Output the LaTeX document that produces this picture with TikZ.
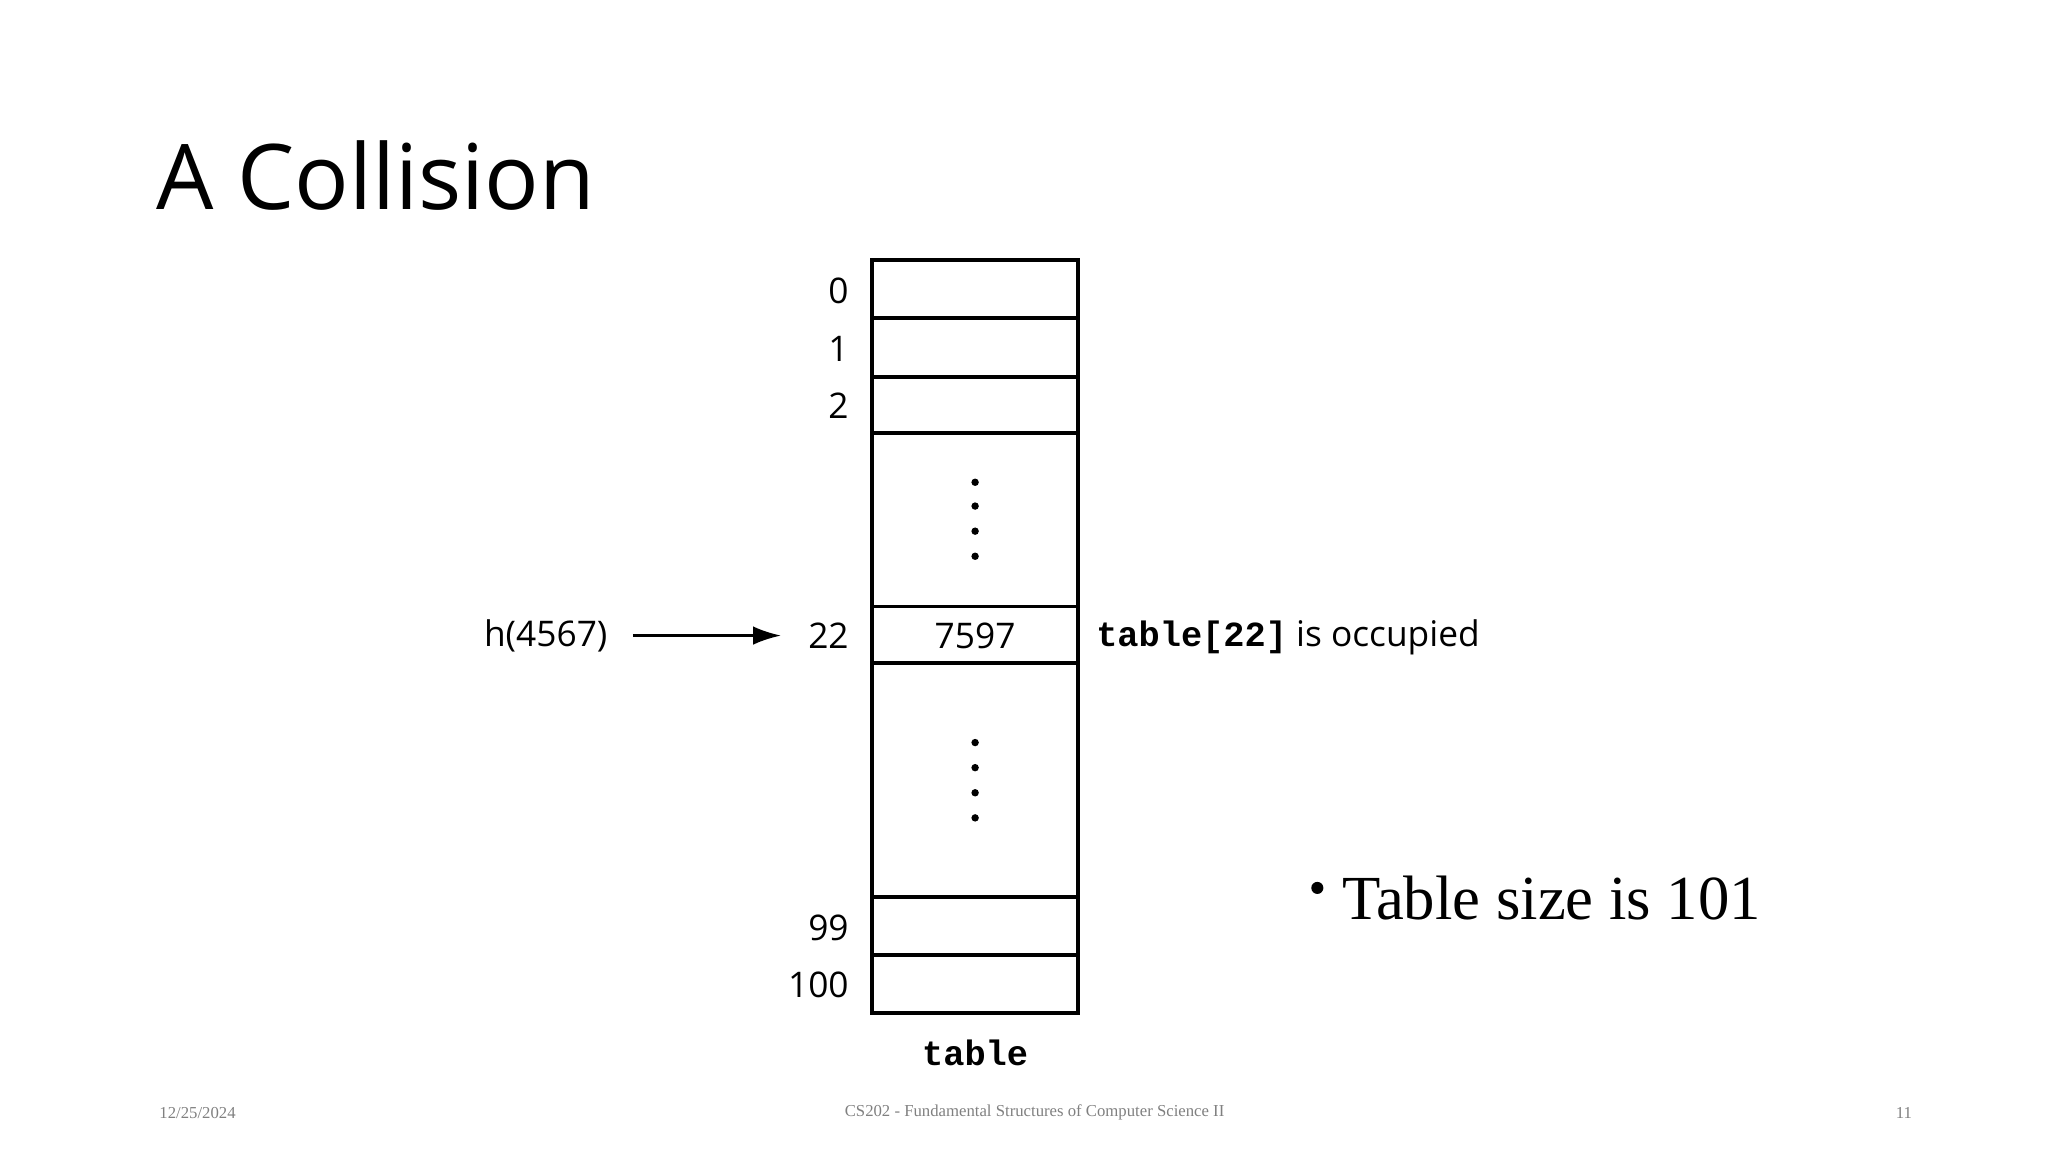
\documentclass[tikz,border=0pt]{standalone}
\usepackage{fontspec}
\setmainfont{Open Sans}
\newfontfamily\tms{Liberation Serif}
\newfontfamily\cour{Liberation Mono}
\usetikzlibrary{arrows.meta}
\begin{document}
\begin{tikzpicture}[x=0.01cm,y=-0.01cm,
  idx/.style={anchor=east,font=\fontsize{7.6}{9}\selectfont,inner sep=0},
  cell/.style={draw,line width=0.85pt},
  dot/.style={fill,circle,inner sep=0,minimum size=1.6pt}]
\useasboundingbox (0,0) rectangle (1550,872);
\node[anchor=west,inner sep=0,font=\fontsize{19.5}{22}\selectfont] (title) at (118,133) {A Collision};
\foreach \a/\b [count=\i] in {197/241,241/285,285/328,328/459,459/502,502/679,679/723,723/767}
  \draw[cell] (660,\a) rectangle (816,\b);
\foreach \y in {365,383,402,421,562,581,600,619} \node[dot] at (738,\y) {};
\node[idx] (i0) at (643,220) {0};
\node[idx] (i1) at (643,264) {1};
\node[idx] (i2) at (643,307) {2};
\node[idx] (i22) at (643,481) {22};
\node[idx] (i99) at (643,702) {99};
\node[idx] (i100) at (643,745) {100};
\node[font=\fontsize{7.6}{9}\selectfont,inner sep=0] (v) at (738,481) {7597};
\node[font=\fontsize{7.6}{9}\selectfont,inner sep=0] (h) at (413,481) {h(4567)};
\coordinate (as) at (479,481); \coordinate (ae) at (591,481);
\draw[line width=0.5pt,-{Latex[length=6pt,width=4pt]}] (as) -- (ae);
\node[anchor=west,inner sep=0,font=\fontsize{7.6}{9}\selectfont] (occ) at (829,482) {{\cour\bfseries table[22]} is occupied};
\node[inner sep=0,font=\cour\bfseries\fontsize{7.6}{9}\selectfont] (tl) at (738,797) {table};
\node[dot,minimum size=2.6pt] (b) at (997,672) {};
\node[anchor=west,inner sep=0,font=\tms\fontsize{13.5}{15}\selectfont] (ts) at (1015,680) {Table size is 101};
\node[anchor=west,inner sep=0,font=\tms\fontsize{3.6}{4}\selectfont,text=gray] (d) at (120,842) {12/25/2024};
\node[inner sep=0,font=\tms\fontsize{3.6}{4}\selectfont,text=gray] (f) at (783,842) {CS202 - Fundamental Structures of Computer Science II};
\node[inner sep=0,font=\tms\fontsize{3.6}{4}\selectfont,text=gray] (p) at (1441,842) {11};
\end{tikzpicture}
\end{document}
